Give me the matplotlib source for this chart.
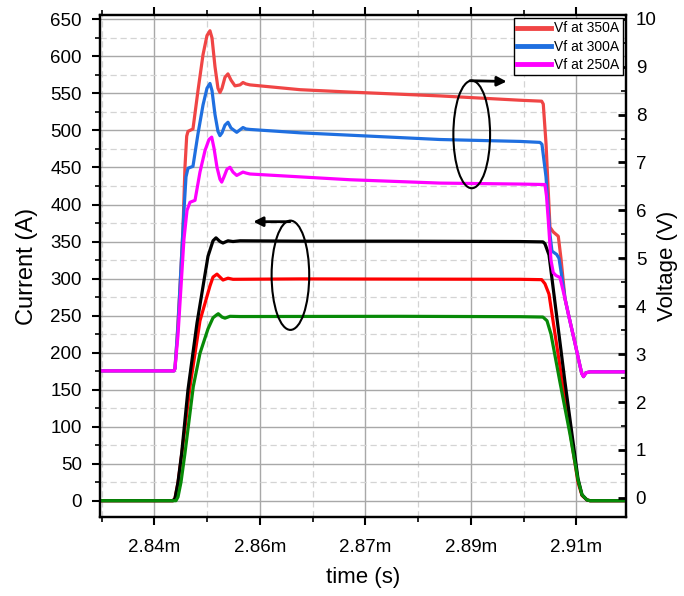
import matplotlib
matplotlib.use("Agg")
import matplotlib.pyplot as plt
from matplotlib.patches import Ellipse
from matplotlib.ticker import FixedLocator, AutoMinorLocator, MultipleLocator, FuncFormatter

plt.rcParams['font.family'] = ['Liberation Sans', 'DejaVu Sans']

# --- time axis (ms) ---
x_ticks = [2.840, 2.857, 2.874, 2.891, 2.908]
x_lim = (2.83122, 2.91598)

# --- current traces (A), left axis ---
t_i350 = [2.83122, 2.84298, 2.84330, 2.84379, 2.84438, 2.84540, 2.84685, 2.84862, 2.84943,
          2.84991, 2.85055, 2.85104, 2.85184, 2.85265, 2.85378, 2.86345, 2.87956, 2.89890,
          2.90260, 2.90292, 2.90357, 2.90615, 2.90824, 2.90889, 2.90969, 2.91018, 2.91598]
i350 = [0, 0, 3, 25, 64, 150, 240, 330, 351,
        355, 350, 348, 351, 350, 351, 350.5, 350.5, 350,
        349.5, 347, 332, 160, 30, 8, 1, 0, 0]

t_i300 = [2.83122, 2.84298, 2.84330, 2.84379, 2.84438, 2.84572, 2.84733, 2.84894, 2.84943,
          2.85007, 2.85104, 2.85184, 2.85265, 2.86345, 2.89890, 2.90239, 2.90292, 2.90357,
          2.90583, 2.90824, 2.90889, 2.90969, 2.91018, 2.91598]
i300 = [0, 0, 3, 24, 62, 154, 243, 290, 302,
        306, 298, 300.5, 299, 299.5, 299, 298.5, 293, 279,
        154, 25, 7, 1, 0, 0]

t_i250 = [2.83122, 2.84346, 2.84379, 2.84427, 2.84491, 2.84625, 2.84733, 2.84862, 2.84943,
          2.85002, 2.85028, 2.85088, 2.85136, 2.85217, 2.85378, 2.87956, 2.89890, 2.90260,
          2.90325, 2.90389, 2.90534, 2.90695, 2.90824, 2.90889, 2.90969, 2.91018, 2.91598]
i250 = [0, 0, 5, 25, 64, 154, 199, 232, 247,
        251, 252.5, 248, 246.5, 249, 248.7, 249, 248.5, 248,
        243, 225, 160, 90, 28, 8, 1, 0, 0]

# --- forward voltage traces (V), right axis ---
t_v350 = [2.83122, 2.84314, 2.84330, 2.84363, 2.84411, 2.84459, 2.84491, 2.84519, 2.84540,
          2.84620, 2.84701, 2.84782, 2.84846, 2.84894, 2.84927, 2.84975, 2.85023, 2.85055,
          2.85088, 2.85136, 2.85184, 2.85233, 2.85297, 2.85378, 2.85426, 2.85474, 2.85539,
          2.85861, 2.86345, 2.87150, 2.88600, 2.89890, 2.90239, 2.90265, 2.90309, 2.90373,
          2.90426, 2.90507, 2.90550, 2.90615, 2.90679, 2.90776, 2.90840, 2.90884, 2.90913,
          2.90953, 2.91018, 2.91598]
v350 = [2.65, 2.65, 2.70, 3.3, 4.4, 5.6, 6.9, 7.55, 7.65,
        7.7, 8.5, 9.25, 9.65, 9.75, 9.6, 9.0, 8.55, 8.46,
        8.55, 8.78, 8.85, 8.72, 8.60, 8.62, 8.67, 8.64, 8.62,
        8.58, 8.52, 8.47, 8.39, 8.30, 8.28, 8.22, 7.4, 5.65,
        5.55, 5.46, 5.0, 4.16, 3.78, 3.23, 2.85, 2.6, 2.53,
        2.61, 2.63, 2.63]

t_v300 = [2.83122, 2.84314, 2.84330, 2.84379, 2.84427, 2.84475, 2.84508, 2.84540, 2.84620,
          2.84701, 2.84782, 2.84846, 2.84894, 2.84927, 2.84975, 2.85023, 2.85055, 2.85088,
          2.85136, 2.85184, 2.85233, 2.85325, 2.85426, 2.85474, 2.85539, 2.86345, 2.87150,
          2.88600, 2.89890, 2.90212, 2.90244, 2.90309, 2.90373, 2.90405, 2.90481, 2.90518,
          2.90566, 2.90615, 2.90679, 2.90776, 2.90840, 2.90884, 2.90913, 2.90953, 2.91018,
          2.91598]
v300 = [2.65, 2.65, 2.70, 3.6, 4.8, 6.0, 6.7, 6.88, 6.92,
        7.6, 8.2, 8.55, 8.65, 8.5, 8.0, 7.65, 7.56, 7.62,
        7.78, 7.84, 7.72, 7.63, 7.73, 7.70, 7.69, 7.62, 7.57,
        7.48, 7.44, 7.42, 7.38, 6.7, 5.5, 5.15, 5.08, 5.0,
        4.6, 4.16, 3.78, 3.23, 2.85, 2.6, 2.53, 2.61, 2.63,
        2.63]

t_v250 = [2.83122, 2.84314, 2.84330, 2.84379, 2.84427, 2.84475, 2.84524, 2.84572, 2.84653,
          2.84733, 2.84814, 2.84878, 2.84922, 2.84959, 2.85007, 2.85055, 2.85083, 2.85120,
          2.85168, 2.85217, 2.85265, 2.85325, 2.85426, 2.85474, 2.85539, 2.86345, 2.87150,
          2.88600, 2.89890, 2.90292, 2.90317, 2.90346, 2.90389, 2.90426, 2.90470, 2.90534,
          2.90615, 2.90679, 2.90776, 2.90840, 2.90884, 2.90913, 2.90953, 2.91018, 2.91598]
v250 = [2.65, 2.65, 2.70, 3.4, 4.4, 5.4, 6.0, 6.17, 6.21,
        6.8, 7.25, 7.48, 7.53, 7.3, 6.9, 6.65, 6.59, 6.7,
        6.86, 6.90, 6.8, 6.73, 6.80, 6.78, 6.76, 6.70, 6.64,
        6.57, 6.55, 6.54, 6.3, 5.79, 4.96, 4.70, 4.64, 4.60,
        4.155, 3.78, 3.23, 2.85, 2.6, 2.53, 2.61, 2.63, 2.63]

v_labels = ['Vf at 350A', 'Vf at 300A', 'Vf at 250A']
v_colors = ['#f04545', '#1f6fe0', '#ff00ff']
i_colors = ['#000000', '#ff0000', '#078a07']


def main():
    fig = plt.figure(figsize=(6.84, 5.96), dpi=100)
    ax = fig.add_axes([0.1462, 0.1326, 0.7690, 0.8423])

    # grid (follows left axis)
    ax.set_axisbelow(True)
    ax.grid(which='major', color='#a8a8a8', lw=1.0, ls='-')
    ax.grid(which='minor', color='#d4d4d4', lw=0.9, ls=(0, (5, 3)))

    lw = 2.3
    ax.plot(t_i300, i300, color=i_colors[1], lw=lw, solid_joinstyle='round', zorder=3)
    ax.plot(t_i350, i350, color=i_colors[0], lw=lw, solid_joinstyle='round', zorder=4)
    ax.plot(t_i250, i250, color=i_colors[2], lw=lw, solid_joinstyle='round', zorder=5)

    ax.set_xlim(*x_lim)
    ax.set_ylim(-22, 656)
    ax.xaxis.set_major_locator(FixedLocator(x_ticks))
    ax.xaxis.set_minor_locator(AutoMinorLocator(2))
    ax.xaxis.set_major_formatter(FuncFormatter(lambda v, p: f'{v:.2f}m'))
    ax.yaxis.set_major_locator(MultipleLocator(50))
    ax.yaxis.set_minor_locator(MultipleLocator(25))

    ax.tick_params(which='major', direction='out', length=6, width=1.5, labelsize=13.5)
    ax.tick_params(which='minor', direction='out', length=3.5, width=1.2)
    ax.tick_params(axis='x', which='both', top=True)
    ax.tick_params(axis='x', which='major', pad=10)
    ax.tick_params(axis='y', which='major', pad=7)

    ax.set_xlabel('time (s)', fontsize=16, labelpad=8)
    ax.set_ylabel('Current (A)', fontsize=17, labelpad=9)

    # voltage axis
    ax2 = ax.twinx()
    vt = [t_v350, t_v300, t_v250]
    vv = [v350, v300, v250]
    for t, v, c, lab in zip(vt, vv, v_colors, v_labels):
        ax2.plot(t, v, color=c, lw=lw, solid_joinstyle='round', label=lab)
    ax2.set_ylim(-0.40, 10.08)
    ax2.yaxis.set_major_locator(MultipleLocator(1))
    ax2.yaxis.set_minor_locator(MultipleLocator(0.5))
    ax2.tick_params(which='major', direction='in', length=6, width=2, labelsize=13.5, pad=7)
    ax2.tick_params(which='minor', direction='in', length=3.5, width=1.2)
    ax2.set_ylabel('Voltage (V)', fontsize=16, labelpad=0)

    for a in (ax, ax2):
        for s in a.spines.values():
            s.set_linewidth(1.6)

    leg = ax2.legend(loc='upper right', bbox_to_anchor=(0.994, 0.994), borderaxespad=0,
                     fontsize=10, handlelength=2.4, handletextpad=0.25, labelspacing=0.3,
                     borderpad=0.25, fancybox=False, framealpha=1, edgecolor='black')
    leg.get_frame().set_linewidth(1.0)
    for h in leg.get_lines():
        h.set_linewidth(3.5)

    # annotation ellipses and arrows (axes fraction)
    e1 = Ellipse((0.362, 0.4815), 0.0715, 0.2177, transform=ax.transAxes,
                 fill=False, ec='black', lw=1.5, zorder=10)
    e2 = Ellipse((0.7067, 0.762), 0.0698, 0.2143, transform=ax.transAxes,
                 fill=False, ec='black', lw=1.5, zorder=10)
    ax2.add_patch(e1)
    ax2.add_patch(e2)
    ax2.annotate('', xy=(0.2914, 0.5882), xytext=(0.3612, 0.5882), xycoords='axes fraction',
                 arrowprops=dict(arrowstyle='-|>', color='black', lw=2, mutation_scale=14,
                                 shrinkA=0, shrinkB=0))
    ax2.annotate('', xy=(0.7732, 0.8675), xytext=(0.7034, 0.869), xycoords='axes fraction',
                 arrowprops=dict(arrowstyle='-|>', color='black', lw=2, mutation_scale=14,
                                 shrinkA=0, shrinkB=0))

    fig.savefig('out.png', dpi=100)


if __name__ == '__main__':
    main()
